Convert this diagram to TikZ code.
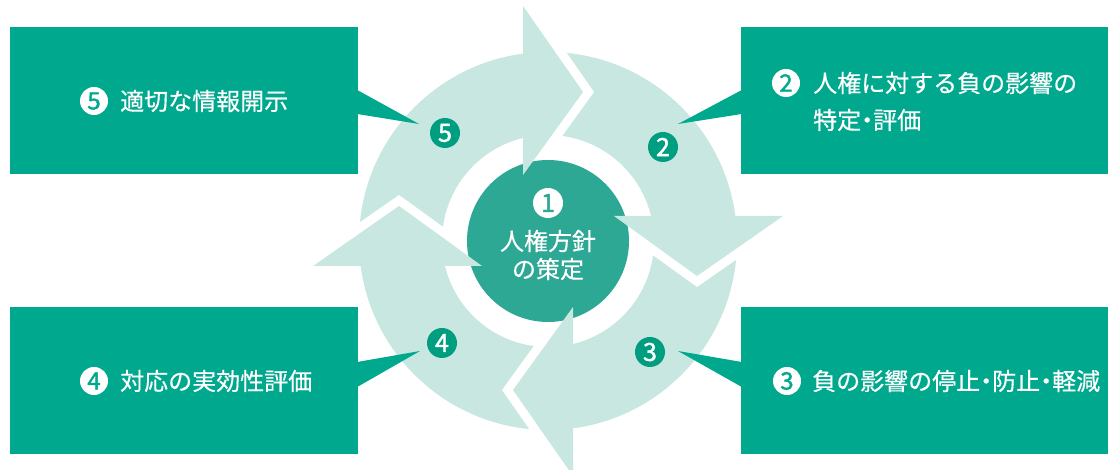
\documentclass[tikz,border=0pt]{standalone}
\usepackage{fontspec}
\setmainfont{Noto Sans CJK JP}[FakeBold=0.4]
\newfontfamily\digitfont{Noto Sans CJK JP}[FakeBold=1.6]
\usetikzlibrary{calc}
\definecolor{boxg}{HTML}{00A98E}
\definecolor{midg}{HTML}{2DA894}
\definecolor{lightg}{HTML}{C8E7E0}
\definecolor{badgeg}{HTML}{009E80}
\newcommand{\nd}{\kern-0.25em・\kern-0.25em}
\begin{document}
\begin{tikzpicture}[x=1pt,y=1pt,
  box/.style={fill=boxg, draw=none, minimum width=348pt, minimum height=147pt, inner sep=0pt},
  lbl/.style={text=white, font=\fontsize{24}{28}\selectfont, inner sep=0pt, anchor=west},
  inbadge/.style={circle, fill=white, text=boxg, minimum size=28pt, inner sep=0pt, font=\digitfont\fontsize{24}{24}\selectfont},
  ringbadge/.style={circle, fill=badgeg, text=white, minimum size=30pt, inner sep=0pt, font=\digitfont\fontsize{25}{25}\selectfont},
  gapfill/.style={fill=white},
  headfill/.style={fill=lightg},
]
\clip (0,0) rectangle (1110,470);
\coordinate (C) at (548,229);
% ring
\fill[lightg, even odd rule] (C) circle[radius=189] (C) circle[radius=106];
% white gaps (arrowheads shifted forward)
\fill[gapfill] ($(C)+(-14,66)$) -- ($(C)+(-14,235)$) -- ($(C)+(46,149)$) -- cycle;
\fill[gapfill] ($(C)+(66,14)$) -- ($(C)+(235,14)$) -- ($(C)+(149,-46)$) -- cycle;
\fill[gapfill] ($(C)+(14,-66)$) -- ($(C)+(14,-235)$) -- ($(C)+(-46,-149)$) -- cycle;
\fill[gapfill] ($(C)+(-66,-14)$) -- ($(C)+(-235,-14)$) -- ($(C)+(-149,46)$) -- cycle;
% centre disc
\node[circle, fill=midg, minimum size=162pt, inner sep=0pt] (core) at (C) {};
% arrowheads
\fill[headfill] ($(C)+(-25,66)$) -- ($(C)+(-25,235)$) -- ($(C)+(35,149)$) -- cycle;
\fill[headfill] ($(C)+(66,25)$) -- ($(C)+(235,25)$) -- ($(C)+(149,-35)$) -- cycle;
\fill[headfill] ($(C)+(25,-66)$) -- ($(C)+(25,-235)$) -- ($(C)+(-35,-149)$) -- cycle;
\fill[headfill] ($(C)+(-66,-25)$) -- ($(C)+(-235,-25)$) -- ($(C)+(-149,35)$) -- cycle;
% centre text
\node[circle, fill=white, text=midg, minimum size=30pt, inner sep=0pt, font=\digitfont\fontsize{25}{25}\selectfont] (c1) at (548,267) {1};
\node[text=white, font=\fontsize{24}{28}\selectfont, align=center, inner sep=0pt] (ct) at (548,215) {人権方針\\の策定};
% boxes
\node[box] (bx5) at (184,369.5) {};
\node[box, minimum width=367pt] (bx2) at (924.5,369.5) {};
\node[box] (bx4) at (184,89.5) {};
\node[box, minimum width=367pt] (bx3) at (924.5,89.5) {};
% pointer tips
\coordinate (p5) at (419,346);
\coordinate (p2) at (678,346);
\coordinate (p4) at (420,119);
\coordinate (p3) at (678,119);
\fill[boxg] ($(bx5.east)+(-1,10.5)$) -- (p5) -- ($(bx5.east)+(-1,-13.5)$) -- cycle;
\fill[boxg] ($(bx2.west)+(1,10.5)$) -- (p2) -- ($(bx2.west)+(1,-13.5)$) -- cycle;
\fill[boxg] ($(bx4.east)+(-1,18.5)$) -- (p4) -- ($(bx4.east)+(-1,-6.5)$) -- cycle;
\fill[boxg] ($(bx3.west)+(1,18.5)$) -- (p3) -- ($(bx3.west)+(1,-6.5)$) -- cycle;
% ring badges
\node[ringbadge] (r5) at (445,337) {5};
\node[ringbadge] (r2) at (663,323) {2};
\node[ringbadge] (r3) at (650,118) {3};
\node[ringbadge] (r4) at (442,127) {4};
% box labels
\node[inbadge] (i5) at (94,369) {5};
\node[lbl] (t5) at (120,369) {適切な情報開示};
\node[inbadge] (i2) at (786,387) {2};
\node[lbl] (t2a) at (813,387) {人権に対する負の影響の};
\node[lbl] (t2b) at (813,350) {特定\nd 評価};
\node[inbadge] (i4) at (94,89) {4};
\node[lbl] (t4) at (120,89) {対応の実効性評価};
\node[inbadge] (i3) at (787,89) {3};
\node[lbl] (t3) at (812,89) {負の影響の停止\nd 防止\nd 軽減};
\end{tikzpicture}
\end{document}
